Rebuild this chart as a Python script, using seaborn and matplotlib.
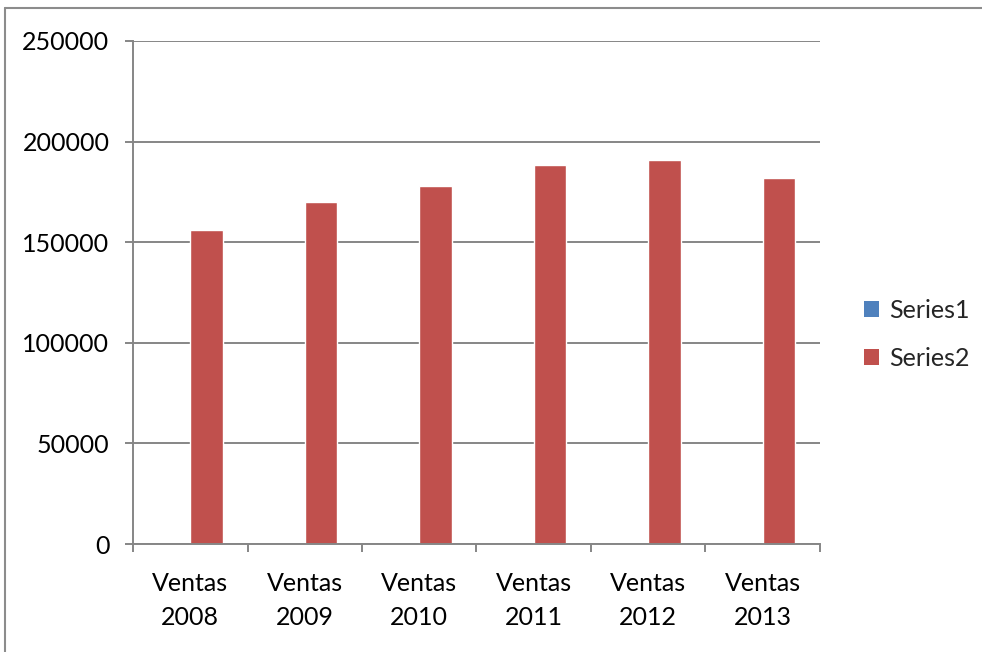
import matplotlib
matplotlib.use("Agg")
import matplotlib.pyplot as plt
from matplotlib.patches import Patch
from matplotlib.lines import Line2D
import seaborn as sns
import pandas as pd

categories = ["Ventas\n2008", "Ventas\n2009", "Ventas\n2010",
              "Ventas\n2011", "Ventas\n2012", "Ventas\n2013"]
series1 = [0, 0, 0, 0, 0, 0]
series2 = [156000, 170000, 178000, 188500, 191000, 182000]
series_names = ["Series1", "Series2"]
series_colors = ["#4F81BD", "#C0504D"]
y_ticks = [0, 50000, 100000, 150000, 200000, 250000]

df = pd.DataFrame({
    "cat": categories * 2,
    "serie": [series_names[0]] * len(categories) + [series_names[1]] * len(categories),
    "valor": series1 + series2,
})

sns.set_style("white")
plt.rcParams["font.family"] = ["Lato", "DejaVu Sans"]

grid_color = "#868686"
fs = 18

fig = plt.figure(figsize=(9.82, 6.52), dpi=100)
ax = fig.add_axes([133 / 982, 1 - 544 / 652, (820 - 133) / 982, (544 - 41) / 652])

sns.barplot(data=df, x="cat", y="valor", hue="serie", hue_order=series_names,
            palette=series_colors, order=categories, width=0.571,
            dodge=True, saturation=1, legend=False, ax=ax, errorbar=None)

ax.set_xlim(-0.5, len(categories) - 0.5)
ax.set_ylim(0, 250000)
ax.set_yticks(y_ticks)
ax.set_yticklabels([str(v) for v in y_ticks])
ax.set_xlabel("")
ax.set_ylabel("")

ax.grid(axis="y", color=grid_color, linewidth=1.4)
ax.set_axisbelow(True)
for side in ["top", "right"]:
    ax.spines[side].set_visible(False)
for side in ["left", "bottom"]:
    ax.spines[side].set_color(grid_color)
    ax.spines[side].set_linewidth(1.4)

ax.tick_params(axis="y", which="major", left=True, length=6, width=1.4,
               color=grid_color, labelsize=fs, pad=11, labelcolor="black")
ax.tick_params(axis="x", which="major", bottom=False, labelsize=fs, pad=17,
               labelcolor="black")
ax.set_xticks([i + 0.5 for i in range(-1, len(categories))], minor=True)
ax.tick_params(axis="x", which="minor", bottom=True, length=6, width=1.4,
               color=grid_color)
for lbl in ax.get_xticklabels():
    lbl.set_linespacing(1.55)

handles = [Patch(facecolor=c, edgecolor="none", label=n)
           for n, c in zip(series_names, series_colors)]
fig.legend(handles=handles, loc="center left", bbox_to_anchor=(864 / 982, 1 - 334 / 652),
           frameon=False, fontsize=fs, handlelength=0.6, handleheight=0.6,
           handletextpad=0.4, labelspacing=1.0, borderpad=0, borderaxespad=0)

# chart area border
border = "#8c8c8c"
fig.add_artist(Line2D([5 / 982, 5 / 982], [0, 1 - 8 / 652], transform=fig.transFigure,
                      color=border, linewidth=1.5))
fig.add_artist(Line2D([5 / 982, 1], [1 - 8 / 652, 1 - 8 / 652], transform=fig.transFigure,
                      color=border, linewidth=1.5))

fig.savefig("out.png", dpi=100)
